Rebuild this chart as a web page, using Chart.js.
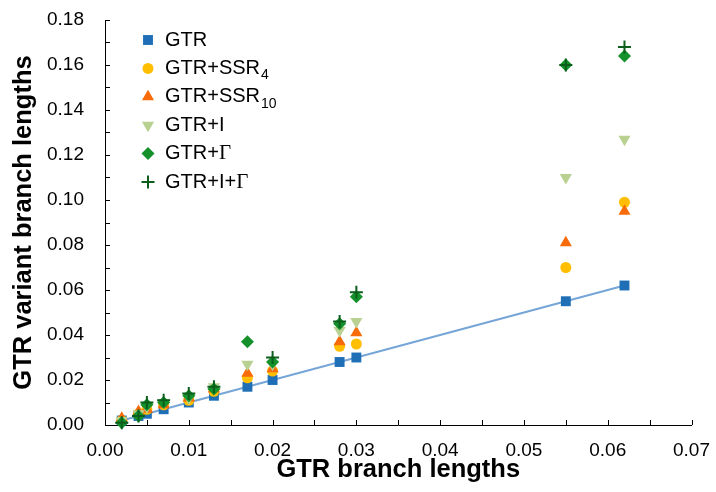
<!DOCTYPE html>
<html>
<head>
<meta charset="utf-8">
<script src="https://cdn.jsdelivr.net/npm/chart.js@4/dist/chart.umd.min.js"></script>
<style>
html, body { margin: 0; padding: 0; background: #fff; }
#wrap { width: 716px; height: 492px; position: relative; }
</style>
</head>
<body>
<div id="wrap"><canvas id="branchChart"></canvas></div>
<script>
// === Data ===
const gtrLengths = [0.002, 0.004, 0.005, 0.007, 0.010, 0.013, 0.017, 0.020, 0.028, 0.030, 0.055, 0.062];

const gtrValues      = [0.002, 0.004, 0.005, 0.007, 0.010, 0.013, 0.017, 0.020, 0.028, 0.030, 0.055, 0.062];
const ssr4Values     = [0.002, 0.005, 0.007, 0.009, 0.011, 0.015, 0.021, 0.024, 0.035, 0.036, 0.070, 0.099];
const ssr10Values    = [0.003, 0.006, 0.007, 0.009, 0.012, 0.016, 0.023, 0.025, 0.037, 0.041, 0.081, 0.095];
const invarValues    = [0.002, 0.005, 0.008, 0.010, 0.012, 0.017, 0.027, 0.027, 0.042, 0.046, 0.110, 0.127];
const gammaValues    = [0.001, 0.004, 0.009, 0.010, 0.013, 0.016, 0.037, 0.028, 0.045, 0.057, 0.160, 0.164];
// no visible + mark at 0.017 in the figure
const invGammaValues = [0.001, 0.004, 0.010, 0.011, 0.014, 0.017, null, 0.030, 0.046, 0.059, 0.160, 0.168];

const seriesNames = ["GTR", "GTR+SSR", "GTR+SSR", "GTR+I", "GTR+\u0393", "GTR+I+\u0393"];
const seriesSubs  = ["", "4", "10", "", "", ""];

const xTicks = [0, 0.01, 0.02, 0.03, 0.04, 0.05, 0.06, 0.07];
const yTicks = [0, 0.02, 0.04, 0.06, 0.08, 0.10, 0.12, 0.14, 0.16, 0.18];

const FONT = "'Liberation Sans', Arial, Helvetica, sans-serif";
const SERIF = "'Liberation Serif', 'Times New Roman', serif";

function toPoints(values) {
    return values.map((v, i) => ({ x: gtrLengths[i], y: v }));
}

const seriesValues = [gtrValues, ssr4Values, ssr10Values, invarValues, gammaValues, invGammaValues];
const seriesStyles = [
    { color: "#1f6fb6", pointStyle: "rect", radius: 7, rotation: 0, borderWidth: 0 },
    { color: "#ffbf00", pointStyle: "circle", radius: 5.5, rotation: 0, borderWidth: 0 },
    { color: "#f86b0a", pointStyle: "triangle", radius: 7, rotation: 0, borderWidth: 0 },
    { color: "#b8d190", pointStyle: "triangle", radius: 7, rotation: 180, borderWidth: 0 },
    { color: "#14912a", pointStyle: "rectRot", radius: 6.5, rotation: 0, borderWidth: 0 },
    { color: "#0b5e1c", pointStyle: "cross", radius: 6.5, rotation: 0, borderWidth: 2 }
];

const datasets = seriesValues.map((vals, i) => {
    const s = seriesStyles[i];
    return {
        label: seriesNames[i] + seriesSubs[i],
        data: toPoints(vals),
        showLine: false,
        pointStyle: s.pointStyle,
        pointRadius: s.radius,
        pointRotation: s.rotation,
        pointBackgroundColor: s.color,
        pointBorderColor: s.color,
        pointBorderWidth: s.borderWidth,
        order: 6 - i,
        clip: false
    };
});

// y = x reference line through the GTR points
datasets.push({
    label: "fit",
    data: [
        { x: gtrLengths[0], y: gtrValues[0] },
        { x: gtrLengths[gtrLengths.length - 1], y: gtrValues[gtrValues.length - 1] }
    ],
    showLine: true,
    borderColor: "#76a5d8",
    borderWidth: 2,
    pointRadius: 0,
    order: 10,
    clip: false
});

// inward tick marks on both axes
const innerTicks = {
    id: "innerTicks",
    beforeDatasetsDraw(chart) {
        const { ctx, chartArea, scales } = chart;
        ctx.save();
        ctx.strokeStyle = "#000";
        ctx.lineWidth = 1;
        ctx.beginPath();
        for (let i = 1; i <= 14; i++) {
            const x = Math.round(scales.x.getPixelForValue(i * 0.005)) + 0.5;
            ctx.moveTo(x, chartArea.bottom);
            ctx.lineTo(x, chartArea.bottom - 5);
        }
        for (let i = 1; i <= 18; i++) {
            const y = Math.round(scales.y.getPixelForValue(i * 0.01)) + 0.5;
            ctx.moveTo(chartArea.left, y);
            ctx.lineTo(chartArea.left + 5, y);
        }
        ctx.stroke();
        ctx.restore();
    }
};

// legend with subscripts (and a serif Gamma), drawn inside the plot
const subLegend = {
    id: "subLegend",
    afterDraw(chart) {
        const { ctx, chartArea } = chart;
        const mx = chartArea.left + 43;
        const tx = chartArea.left + 60;
        const y0 = chartArea.top + 20;
        const step = 28.4;
        ctx.save();
        ctx.textBaseline = "middle";
        seriesNames.forEach((name, i) => {
            const s = seriesStyles[i];
            const y = y0 + i * step;
            ctx.fillStyle = s.color;
            ctx.strokeStyle = s.color;
            ctx.lineWidth = s.borderWidth || 1;
            Chart.helpers.drawPoint(ctx, {
                pointStyle: s.pointStyle,
                radius: s.radius,
                rotation: s.rotation,
                borderWidth: s.borderWidth
            }, mx, y);

            ctx.fillStyle = "#000";
            let x = tx;
            for (const ch of name) {
                ctx.font = ch === "\u0393" ? "21px " + SERIF : "20px " + FONT;
                ctx.fillText(ch, x, y);
                x += ctx.measureText(ch).width;
            }
            if (seriesSubs[i]) {
                ctx.font = "14px " + FONT;
                ctx.fillText(seriesSubs[i], x + 1, y + 7);
            }
        });
        ctx.restore();
    }
};

new Chart(document.getElementById("branchChart"), {
    type: "scatter",
    data: { datasets: datasets },
    plugins: [innerTicks, subLegend],
    options: {
        responsive: true,
        maintainAspectRatio: false,
        animation: false,
        layout: { padding: { left: 0, right: 19, top: 20, bottom: 0 } },
        plugins: {
            legend: { display: false },
            tooltip: { enabled: false }
        },
        scales: {
            x: {
                type: "linear",
                min: 0,
                max: 0.07,
                afterBuildTicks: axis => { axis.ticks = xTicks.map(v => ({ value: v })); },
                afterFit: axis => { axis.height = 67; },
                grid: { display: false },
                border: { display: true, color: "#000", width: 1 },
                ticks: {
                    color: "#000",
                    padding: 6,
                    maxRotation: 0,
                    font: { family: FONT, size: 19 },
                    callback: v => v.toFixed(2)
                },
                title: {
                    display: true,
                    text: "GTR branch lengths",
                    color: "#000",
                    padding: { top: 0, bottom: 7 },
                    font: { family: FONT, size: 25.5, weight: "bold" }
                }
            },
            y: {
                type: "linear",
                min: 0,
                max: 0.18,
                afterBuildTicks: axis => { axis.ticks = yTicks.map(v => ({ value: v })); },
                afterFit: axis => {
                    axis.width = 105;
                    axis.paddingTop = 0;
                    axis.paddingBottom = 0;
                },
                grid: { display: false },
                border: { display: true, color: "#000", width: 1 },
                ticks: {
                    color: "#000",
                    padding: 13,
                    font: { family: FONT, size: 19 },
                    callback: v => v.toFixed(2)
                },
                title: {
                    display: true,
                    text: "GTR variant branch lengths",
                    color: "#000",
                    padding: { top: 9, bottom: 0 },
                    font: { family: FONT, size: 25.5, weight: "bold" }
                }
            }
        }
    }
});
</script>
</body>
</html>
